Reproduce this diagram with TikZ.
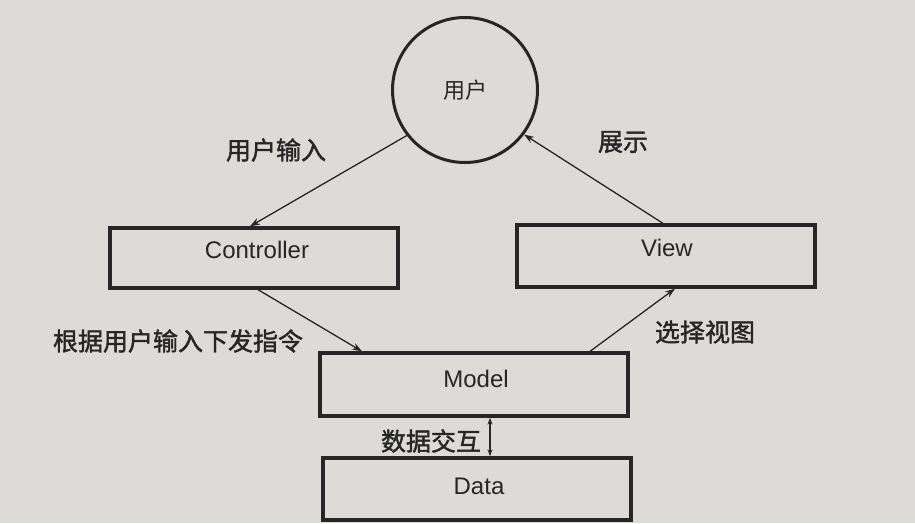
\documentclass[tikz,border=0pt]{standalone}
\usepackage{fontspec}
\setmainfont{Liberation Sans}
\newfontfamily\cjk{Noto Sans CJK SC}
\newfontfamily\cjkm[FakeBold=1.6]{Noto Sans CJK SC}
\usetikzlibrary{arrows.meta,calc}
\definecolor{paper}{RGB}{221,219,215}
\definecolor{ink}{RGB}{38,38,38}
\tikzset{
  box/.style={draw=ink, line width=3.3pt, rectangle, inner sep=0pt},
  boxtext/.style={text=ink, font=\fontsize{24}{27}\selectfont},
  lbl/.style={text=ink, font=\cjkm\fontsize{25}{28}\selectfont, inner sep=0pt},
  conn/.style={draw=ink, line width=1.3pt, -{Stealth[length=10pt,width=7pt]}},
  dconn/.style={draw=ink, line width=1.3pt, {Stealth[length=7pt,width=5pt]}-{Stealth[length=7pt,width=5pt]}}
}
\begin{document}
\begin{tikzpicture}[x=1pt,y=-1pt]
\useasboundingbox (0,0) rectangle (915,523);
\fill[paper] (0,0) rectangle (915,523);
% nodes
\node[draw=ink, line width=3pt, circle, minimum size=145pt, inner sep=0pt] (user) at (465,90) {};
\node[text=ink, font=\cjk\fontsize{22}{25}\selectfont] (usert) at (465,90) {用户};
\node[box, minimum width=288pt, minimum height=60pt] (ctrl) at (254,258) {};
\node[boxtext] (ctrlt) at (257,250) {Controller};
\node[box, minimum width=298pt, minimum height=62pt] (view) at (666,256) {};
\node[boxtext] (viewt) at (667,248) {View};
\node[box, minimum width=308pt, minimum height=63pt] (model) at (474,384.5) {};
\node[boxtext] (modelt) at (476,379) {Model};
\node[box, minimum width=308pt, minimum height=62pt] (data) at (477,489) {};
\node[boxtext] (datat) at (479,486) {Data};
% connectors
\draw[conn] (user.218) -- ([xshift=-4pt]ctrl.north);
\draw[conn] ([xshift=-3pt]view.north) -- (user.323);
\draw[conn] ([xshift=4pt]ctrl.south) -- ([xshift=-112pt]model.north);
\draw[conn] ([xshift=116pt]model.north) -- ([xshift=9pt]view.south);
\draw[dconn] ([xshift=16pt]model.south) -- ([xshift=16pt]model.south |- data.north);
% labels
\node[lbl] (l1) at (276,150) {用户输入};
\node[lbl] (l2) at (623,142) {展示};
\node[lbl] (l3) at (178,341) {根据用户输入下发指令};
\node[lbl] (l4) at (705,332) {选择视图};
\node[lbl] (l5) at (431,441) {数据交互};
\end{tikzpicture}
\end{document}
